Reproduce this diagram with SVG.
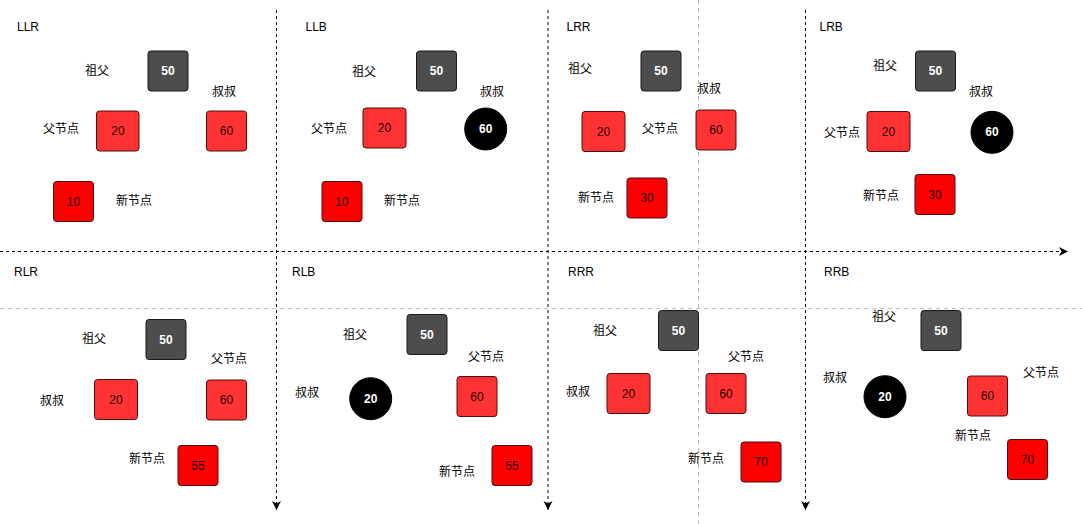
<svg xmlns="http://www.w3.org/2000/svg" width="1082" height="524" viewBox="0 0 1082 524">
<defs>
<style>
text{font-family:"Liberation Sans","Noto Sans CJK SC",Arial,sans-serif;font-size:12px;fill:#000;}
.lbl{text-anchor:middle;dominant-baseline:central;}
.title{dominant-baseline:central;}
.gp rect{fill:#4D4D4D;stroke:#1a1a1a;stroke-width:1;}
.gp text{fill:#fff;font-weight:bold;text-anchor:middle;dominant-baseline:central;}
.rd rect{fill:#FF3333;stroke:#4a1010;stroke-width:1;}
.rd text{fill:#1a0000;text-anchor:middle;dominant-baseline:central;}
.nw rect{fill:#FF0000;stroke:#4a1010;stroke-width:1;}
.nw text{fill:#1a0000;text-anchor:middle;dominant-baseline:central;}
.bk circle{fill:#000;stroke:#000;}
.bk text{fill:#fff;font-weight:bold;text-anchor:middle;dominant-baseline:central;}
.axis{stroke:#000;stroke-width:1;stroke-dasharray:3 3;fill:none;}
.grid{stroke:#BDBDBD;stroke-width:1;stroke-dasharray:4 4;fill:none;}
</style>
<marker id="arr" markerUnits="userSpaceOnUse" markerWidth="12" markerHeight="12" viewBox="0 0 12 12" refX="10" refY="6" orient="auto">
<path d="M1,1.5 L10,6 L1,10.5 L3.5,6 Z" fill="#000"/>
</marker>
</defs>

<g id="connectors">
<line class="grid" x1="0" y1="308.5" x2="1082" y2="308.5"/>
<line class="grid" x1="698.5" y1="0" x2="698.5" y2="524"/>
<line class="axis" x1="0" y1="251.5" x2="1068" y2="251.5" marker-end="url(#arr)"/>
<line class="axis" x1="276.5" y1="10" x2="276.5" y2="510" marker-end="url(#arr)"/>
<line class="axis" x1="548" y1="10" x2="548" y2="510" marker-end="url(#arr)"/>
<line class="axis" x1="805.5" y1="10" x2="805.5" y2="510" marker-end="url(#arr)"/>
</g>

<!-- LLR -->
<g id="LLR">
<text class="title" x="17" y="27">LLR</text>
<text class="lbl" x="97" y="71">祖父</text>
<text class="lbl" x="224" y="92">叔叔</text>
<text class="lbl" x="61" y="129">父节点</text>
<text class="lbl" x="134" y="201">新节点</text>
<g id="LLR-50" class="gp"><rect x="148" y="51" width="40" height="40" rx="3"/><text x="168" y="71">50</text></g>
<g id="LLR-20" class="rd"><rect x="96.5" y="111" width="42.5" height="40" rx="3"/><text x="118" y="131">20</text></g>
<g id="LLR-60" class="rd"><rect x="206.5" y="111" width="40" height="40" rx="3"/><text x="226.5" y="131">60</text></g>
<g id="LLR-10" class="nw"><rect x="53.5" y="181.5" width="40" height="40" rx="3"/><text x="73.5" y="201.5">10</text></g>
</g>

<!-- LLB -->
<g id="LLB">
<text class="title" x="305.5" y="27">LLB</text>
<text class="lbl" x="364" y="72">祖父</text>
<text class="lbl" x="492" y="92">叔叔</text>
<text class="lbl" x="329" y="129">父节点</text>
<text class="lbl" x="402" y="201">新节点</text>
<g id="LLB-50" class="gp"><rect x="416.5" y="51" width="40" height="40" rx="3"/><text x="436.5" y="71">50</text></g>
<g id="LLB-60" class="bk"><circle cx="485.7" cy="129" r="21"/><text x="485.7" y="129">60</text></g>
<g id="LLB-20" class="rd"><rect x="363" y="108" width="43" height="40" rx="3"/><text x="384.5" y="128">20</text></g>
<g id="LLB-10" class="nw"><rect x="322" y="181.5" width="40" height="40" rx="3"/><text x="342" y="201.5">10</text></g>
</g>

<!-- LRR -->
<g id="LRR">
<text class="title" x="566.5" y="27">LRR</text>
<text class="lbl" x="580" y="69">祖父</text>
<text class="lbl" x="709" y="89">叔叔</text>
<text class="lbl" x="660" y="129">父节点</text>
<text class="lbl" x="596" y="198">新节点</text>
<g id="LRR-50" class="gp"><rect x="641" y="51" width="40" height="40" rx="3"/><text x="661" y="71">50</text></g>
<g id="LRR-20" class="rd"><rect x="582" y="111.5" width="43" height="40" rx="3"/><text x="603.5" y="131.5">20</text></g>
<g id="LRR-60" class="rd"><rect x="696" y="110" width="40" height="40" rx="3"/><text x="716" y="130">60</text></g>
<g id="LRR-30" class="nw"><rect x="627" y="178" width="40" height="40" rx="3"/><text x="647" y="198">30</text></g>
</g>

<!-- LRB -->
<g id="LRB">
<text class="title" x="819.5" y="27">LRB</text>
<text class="lbl" x="885" y="66">祖父</text>
<text class="lbl" x="981" y="92">叔叔</text>
<text class="lbl" x="842" y="133">父节点</text>
<text class="lbl" x="881" y="196">新节点</text>
<g id="LRB-50" class="gp"><rect x="915.5" y="51" width="40" height="40" rx="3"/><text x="935.5" y="71">50</text></g>
<g id="LRB-20" class="rd"><rect x="867" y="111.5" width="43" height="40" rx="3"/><text x="888.5" y="131.5">20</text></g>
<g id="LRB-60" class="bk"><circle cx="992" cy="132.3" r="21"/><text x="992" y="132.3">60</text></g>
<g id="LRB-30" class="nw"><rect x="915" y="174.5" width="40" height="40" rx="3"/><text x="935" y="194.5">30</text></g>
</g>

<!-- RLR -->
<g id="RLR">
<text class="title" x="14" y="272">RLR</text>
<text class="lbl" x="94" y="339">祖父</text>
<text class="lbl" x="229" y="359">父节点</text>
<text class="lbl" x="52" y="401">叔叔</text>
<text class="lbl" x="147" y="459">新节点</text>
<g id="RLR-50" class="gp"><rect x="146" y="319.5" width="40" height="40" rx="3"/><text x="166" y="339.5">50</text></g>
<g id="RLR-20" class="rd"><rect x="94.5" y="379.5" width="43" height="40" rx="3"/><text x="116" y="399.5">20</text></g>
<g id="RLR-60" class="rd"><rect x="206.5" y="380" width="40" height="40" rx="3"/><text x="226.5" y="400">60</text></g>
<g id="RLR-55" class="nw"><rect x="178" y="445.5" width="40" height="40" rx="3"/><text x="198" y="465.5">55</text></g>
</g>

<!-- RLB -->
<g id="RLB">
<text class="title" x="292" y="272">RLB</text>
<text class="lbl" x="355" y="335">祖父</text>
<text class="lbl" x="486" y="357">父节点</text>
<text class="lbl" x="307" y="393">叔叔</text>
<text class="lbl" x="457" y="472">新节点</text>
<g id="RLB-50" class="gp"><rect x="407" y="314.5" width="40" height="40" rx="3"/><text x="427" y="334.5">50</text></g>
<g id="RLB-20" class="bk"><circle cx="370.7" cy="398.7" r="21"/><text x="370.7" y="398.7">20</text></g>
<g id="RLB-60" class="rd"><rect x="457" y="376.5" width="40" height="40" rx="3"/><text x="477" y="396.5">60</text></g>
<g id="RLB-55" class="nw"><rect x="492" y="445.5" width="40" height="40" rx="3"/><text x="512" y="465.5">55</text></g>
</g>

<!-- RRR -->
<g id="RRR">
<text class="title" x="568" y="272">RRR</text>
<text class="lbl" x="605" y="331">祖父</text>
<text class="lbl" x="746" y="357">父节点</text>
<text class="lbl" x="578" y="392">叔叔</text>
<text class="lbl" x="706" y="459">新节点</text>
<g id="RRR-50" class="gp"><rect x="658.5" y="310.5" width="40" height="40" rx="3"/><text x="678.5" y="330.5">50</text></g>
<g id="RRR-20" class="rd"><rect x="607" y="373.5" width="43" height="40" rx="3"/><text x="628.5" y="393.5">20</text></g>
<g id="RRR-60" class="rd"><rect x="706" y="373.5" width="40" height="40" rx="3"/><text x="726" y="393.5">60</text></g>
<g id="RRR-70" class="nw"><rect x="741" y="442" width="40" height="40" rx="3"/><text x="761" y="462">70</text></g>
</g>

<!-- RRB -->
<g id="RRB">
<text class="title" x="824" y="272">RRB</text>
<text class="lbl" x="884" y="317">祖父</text>
<text class="lbl" x="835" y="378">叔叔</text>
<text class="lbl" x="1041" y="373">父节点</text>
<text class="lbl" x="973" y="436">新节点</text>
<g id="RRB-50" class="gp"><rect x="921" y="310.5" width="40" height="40" rx="3"/><text x="941" y="330.5">50</text></g>
<g id="RRB-20" class="bk"><circle cx="885" cy="396.7" r="21"/><text x="885" y="396.7">20</text></g>
<g id="RRB-60" class="rd"><rect x="967.5" y="376" width="40" height="40" rx="3"/><text x="987.5" y="396">60</text></g>
<g id="RRB-70" class="nw"><rect x="1007.5" y="439.5" width="40" height="40" rx="3"/><text x="1027.5" y="459.5">70</text></g>
</g>
</svg>
